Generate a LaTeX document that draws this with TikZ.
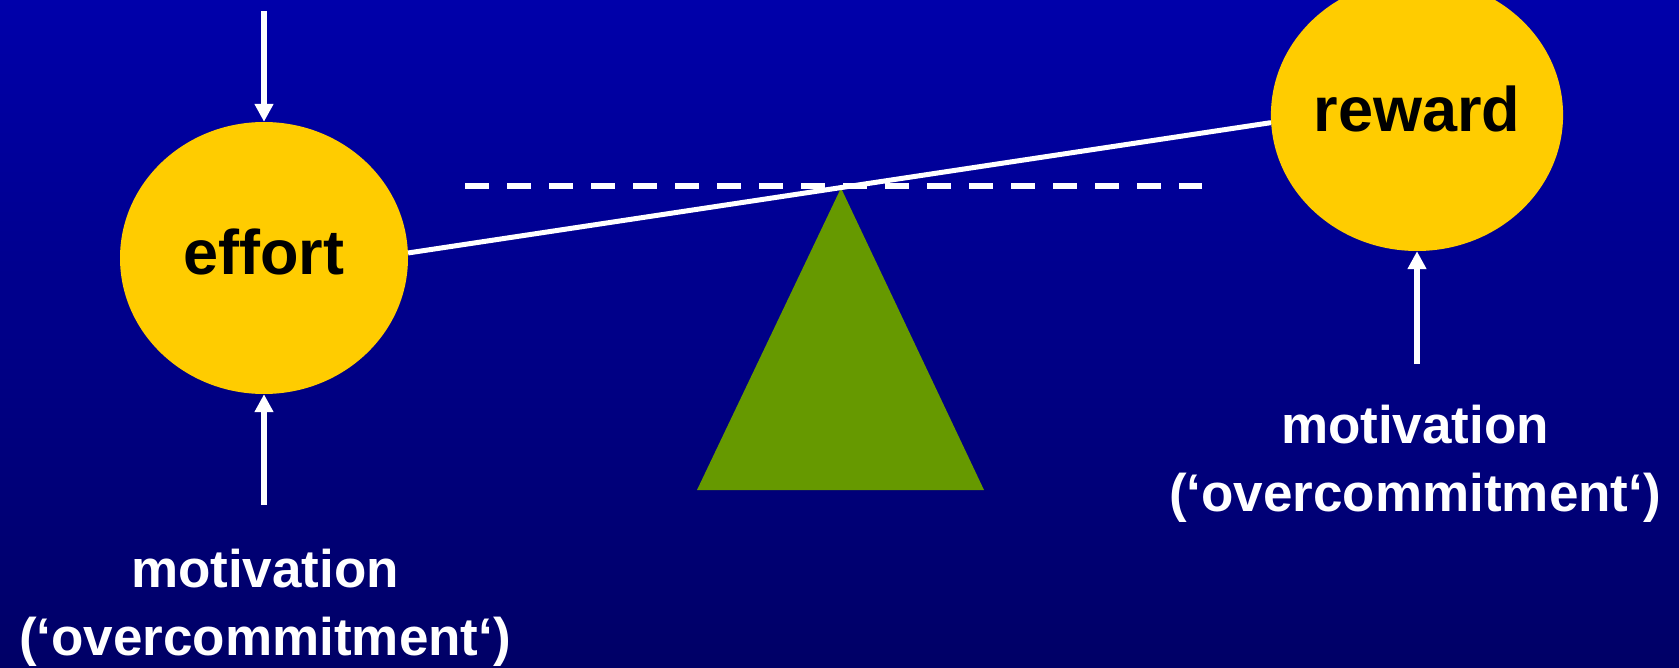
\documentclass[tikz,border=0pt]{standalone}
\usepackage{fontspec}
\setmainfont{Liberation Sans}
\usepackage{tikz}
\usetikzlibrary{arrows.meta,positioning,shapes.geometric}
\definecolor{bgtop}{HTML}{0000AA}
\definecolor{bgbot}{HTML}{000066}
\definecolor{cyellow}{HTML}{FFCC00}
\definecolor{cgreen}{HTML}{669900}

\begin{document}
\begin{tikzpicture}[
      x=1pt, y=-1pt,
      weight/.style={ellipse, fill=cyellow, inner sep=0pt, minimum width=288pt, minimum height=272pt,
                     text height=46pt, text depth=12pt, font=\fontsize{63}{63}\selectfont\bfseries},
      lbl/.style={text=white, align=center, inner sep=0pt, anchor=north,
                  font=\fontsize{53}{68}\selectfont\bfseries},
      arr/.style={-{Triangle[length=18pt,width=18pt]}, white, line width=5.5pt},
      beam/.style={white, line width=5pt},
      level/.style={white, line width=6pt, dash pattern=on 24pt off 18pt}
    ]
    \useasboundingbox (0,0) rectangle (1679,668);
    \shade[top color=bgtop, bottom color=bgbot] (0,0) rectangle (1679,668);
    % balance
    \coordinate (lvlL) at (465,186); \coordinate (lvlR) at (1202,186);
    \draw[level] (lvlL) -- (lvlR);
    \fill[cgreen] (841,188) -- (697,490) -- (984,490) -- cycle;
    \node[weight] (effort) at (264,258) {effort};
    \node[weight] (reward) at (1417,115) {reward};
    \draw[beam] (effort.2) -- (reward.183);
    % motivation
    \coordinate (effin) at (264,11);
    \coordinate (effmot) at (264,505);
    \coordinate (rewmot) at (1417,364);
    \node[lbl] (leftlbl) at (265,549) {motivation\\(‘overcommitment‘)};
    \node[lbl] (rightlbl) at (1415,405) {motivation\\(‘overcommitment‘)};
    \draw[arr] (effin) -- (effort.north);
    \draw[arr] (effmot) -- (effort.south);
    \draw[arr] (rewmot) -- (reward.south);
  \end{tikzpicture}
\end{document}
